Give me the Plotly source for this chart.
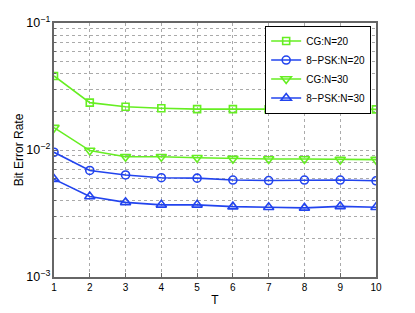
import plotly.graph_objects as go

T = [1, 2, 3, 4, 5, 6, 7, 8, 9, 10]
cg_n20 = [0.0383, 0.0236, 0.0219, 0.0213, 0.0210, 0.0210, 0.0209, 0.0210, 0.0212, 0.0209]
psk_n20 = [0.0096, 0.0069, 0.00636, 0.00605, 0.0060, 0.0058, 0.00575, 0.0058, 0.0058, 0.00572]
cg_n30 = [0.0150, 0.0099, 0.00885, 0.00885, 0.0087, 0.00855, 0.0085, 0.0085, 0.0084, 0.0084]
psk_n30 = [0.0059, 0.0043, 0.00387, 0.0037, 0.0037, 0.00358, 0.00354, 0.0035, 0.0036, 0.00354]
names = ["CG:N=20", "8\u2212PSK:N=20", "CG:N=30", "8\u2212PSK:N=30"]

GREEN = "#66ee22"
BLUE = "#2244ee"

series = [
    (cg_n20, names[0], GREEN, "square-open", 7),
    (psk_n20, names[1], BLUE, "circle-open", 8),
    (cg_n30, names[2], GREEN, "triangle-down-open", 9),
    (psk_n30, names[3], BLUE, "triangle-up-open", 9),
]

fig = go.Figure()
for ys, nm, col, sym, sz in series:
    fig.add_trace(go.Scatter(
        x=T, y=ys, name=nm, mode="lines+markers",
        line=dict(color=col, width=1.6),
        marker=dict(symbol=sym, size=sz, color=col, line=dict(color=col, width=1.6)),
    ))

fig.update_layout(
    width=407, height=305,
    margin=dict(l=46, r=39, t=15, b=36),
    paper_bgcolor="white", plot_bgcolor="white",
    font=dict(family="Liberation Sans, Arial, sans-serif", size=10, color="black"),
    showlegend=True,
    legend=dict(
        x=0.985, y=0.99, xanchor="right", yanchor="top",
        bgcolor="white", bordercolor="black", borderwidth=1,
        font=dict(size=10), tracegroupgap=0, itemwidth=30,
    ),
)
fig.update_xaxes(
    range=[1, 10], tickvals=T, title=dict(text="T", standoff=4),
    automargin=False,
    showgrid=True, gridcolor="#aaaaaa", griddash="dot", gridwidth=1,
    showline=True, linecolor="#666666", linewidth=1.5, mirror=True,
    ticks="inside", ticklen=4, tickcolor="#666666", zeroline=False,
)
fig.update_yaxes(
    type="log", range=[-3, -1], dtick=1, exponentformat="power",
    title=dict(text="Bit Error Rate", standoff=0),
    automargin=False,
    showgrid=True, gridcolor="#aaaaaa", griddash="dot", gridwidth=1,
    minor=dict(dtick="D1", showgrid=True, gridcolor="#aaaaaa", griddash="dot",
               ticks="inside", ticklen=2, tickcolor="#666666"),
    showline=True, linecolor="#666666", linewidth=1.5, mirror=True,
    ticks="inside", ticklen=4, tickcolor="#666666", zeroline=False,
)

fig.write_html("out.html")
